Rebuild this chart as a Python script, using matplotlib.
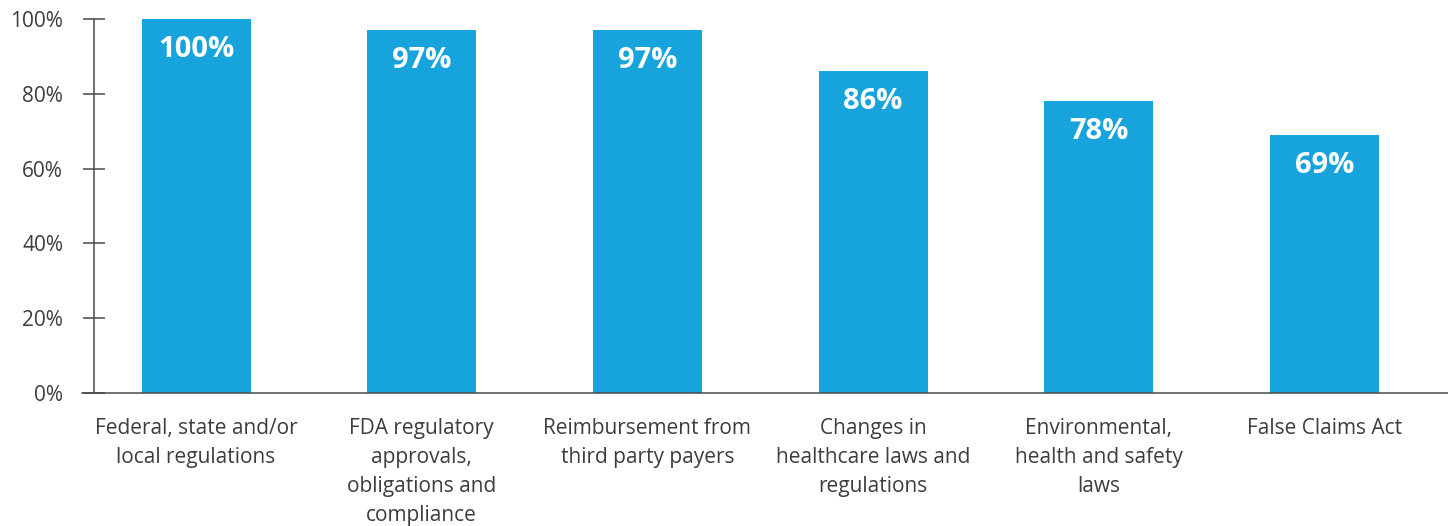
import matplotlib
matplotlib.use("Agg")
import matplotlib.pyplot as plt
import matplotlib.ticker as mtick
import numpy as np

categories = [
    "Federal, state and/or\nlocal regulations",
    "FDA regulatory\napprovals,\nobligations and\ncompliance",
    "Reimbursement from\nthird party payers",
    "Changes in\nhealthcare laws and\nregulations",
    "Environmental,\nhealth and safety\nlaws",
    "False Claims Act",
]
values = [100, 97, 97, 86, 78, 69]
yticks = [0, 20, 40, 60, 80, 100]

bar_color = "#17a4dd"
text_color = "#3d3d3d"
axis_color = "#4a4a4a"

plt.rcParams["font.family"] = ["Open Sans", "DejaVu Sans"]

fig = plt.figure(figsize=(14.48, 5.26), dpi=100)
ax = fig.add_axes([94 / 1448, 133 / 526, 1 - 94 / 1448, (393 - 19) / 526])

x = np.arange(len(categories))
rects = ax.bar(x, values, width=0.483, color=bar_color, zorder=2)

for rect, v in zip(rects, values):
    ax.annotate("{}%".format(v),
                xy=(rect.get_x() + rect.get_width() / 2, rect.get_height()),
                xytext=(0, -22), textcoords="offset points",
                ha="center", va="center", color="white",
                fontsize=21, fontweight="bold")

ax.set_xlim(-0.452, 5.547)
ax.set_ylim(0, 100)
ax.set_yticks(yticks)
ax.yaxis.set_major_formatter(mtick.PercentFormatter(decimals=0))
ax.set_xticks(x)
ax.set_xticklabels(categories, fontsize=15, color=text_color, linespacing=1.5)

for side in ["top", "right"]:
    ax.spines[side].set_visible(False)
for side in ["left", "bottom"]:
    ax.spines[side].set_color(axis_color)
    ax.spines[side].set_linewidth(1.1)
ax.spines["bottom"].set_bounds(-0.452 - 12 / 225.7, 5.547)
ax.spines["bottom"].set_clip_on(False)

ax.tick_params(axis="y", direction="inout", length=16.5, width=1.1,
               color=axis_color, labelsize=15, labelcolor=text_color, pad=14)
ax.tick_params(axis="x", length=0, pad=18)

fig.savefig("out.png", dpi=100)
